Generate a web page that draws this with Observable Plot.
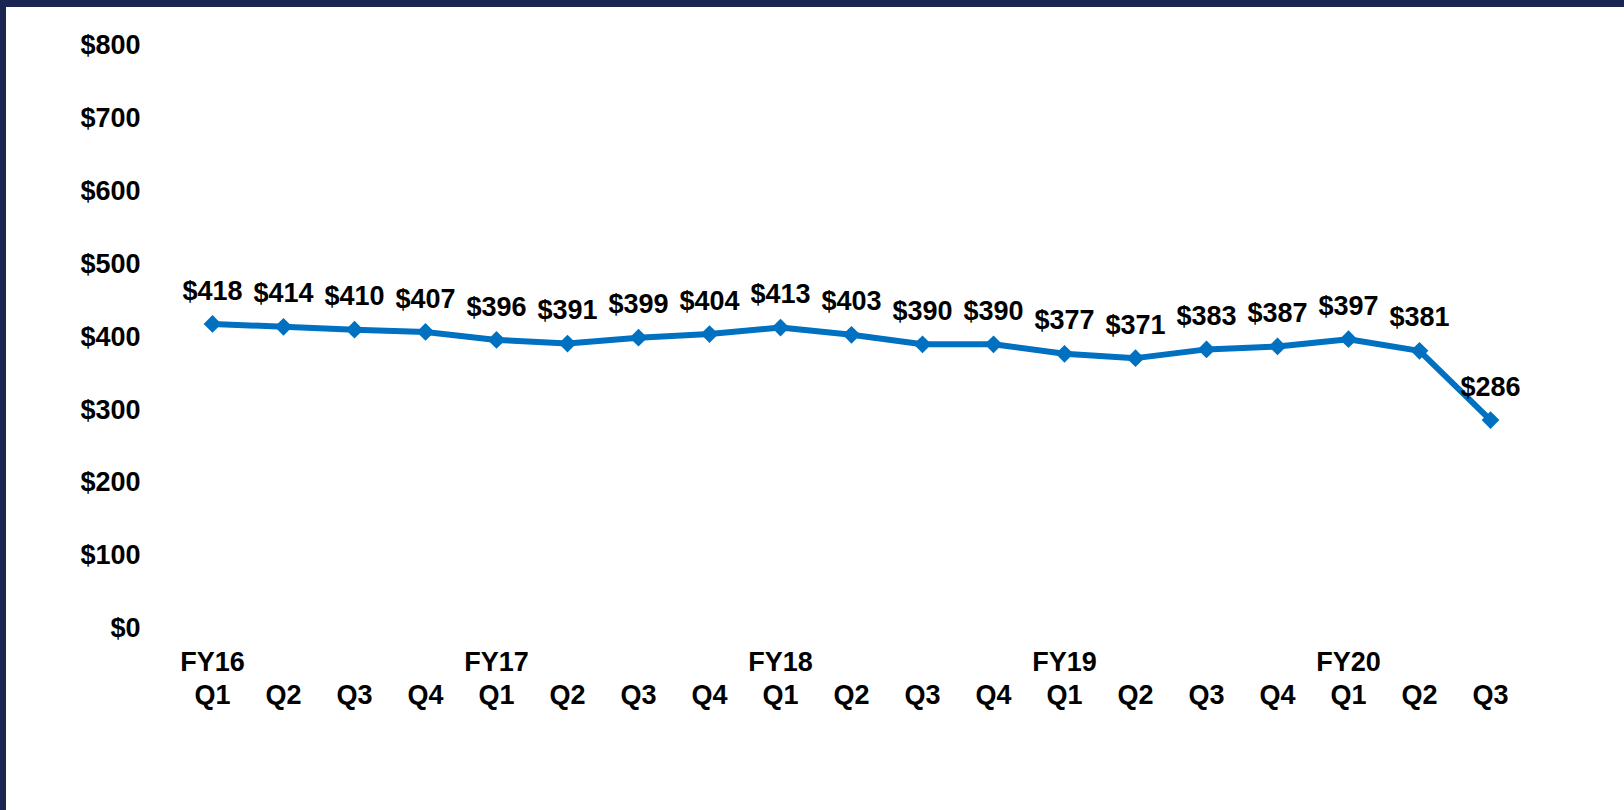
<!DOCTYPE html>
<html>
<head>
<meta charset="utf-8">
<script src="https://cdn.jsdelivr.net/npm/d3@7"></script>
<script src="https://cdn.jsdelivr.net/npm/@observablehq/plot@0.6"></script>
<style>
  html, body { margin: 0; padding: 0; background: #fff; }
  #wrap { position: relative; width: 1624px; height: 810px; overflow: hidden; }
  #top { position: absolute; left: 0; top: 0; width: 1624px; height: 7px; background: #1a2552; }
  #left { position: absolute; left: 0; top: 0; width: 6px; height: 810px; background: #1a2552; }
  #chart svg { display: block; }
</style>
</head>
<body>
<div id="wrap">
  <div id="chart"></div>
  <div id="top"></div>
  <div id="left"></div>
</div>
<script>
const fiscalYears = ["FY16", "", "", "", "FY17", "", "", "", "FY18", "", "", "", "FY19", "", "", "", "FY20", "", ""];
const quarters = ["Q1", "Q2", "Q3", "Q4", "Q1", "Q2", "Q3", "Q4", "Q1", "Q2", "Q3", "Q4", "Q1", "Q2", "Q3", "Q4", "Q1", "Q2", "Q3"];
const values = [418, 414, 410, 407, 396, 391, 399, 404, 413, 403, 390, 390, 377, 371, 383, 387, 397, 381, 286];
const yTicks = [0, 100, 200, 300, 400, 500, 600, 700, 800];

const data = values.map((v, i) => ({i, v, fy: fiscalYears[i], q: quarters[i]}));
const idx = data.map(d => d.i);
const font = "'Liberation Sans', Arial, sans-serif";
const blue = "#0070C0";
const fs = 27;

const chart = Plot.plot({
  width: 1624,
  height: 810,
  marginLeft: 208,
  marginRight: 131,
  marginTop: 45,
  marginBottom: 182,
  style: {fontFamily: font, fontSize: fs + "px", fontWeight: "bold", color: "#000", background: "transparent"},
  x: {type: "point", domain: idx, padding: 0},
  y: {domain: [0, 800]},
  marks: [
    Plot.axisY({ticks: yTicks, tickSize: 0, tickPadding: 68, tickFormat: d => "$" + d, fontSize: fs, fontWeight: "bold", label: null}),
    Plot.axisX({tickSize: 0, tickPadding: 23, tickFormat: i => fiscalYears[i], fontSize: fs, fontWeight: "bold", label: null}),
    Plot.axisX({tickSize: 0, tickPadding: 56, tickFormat: i => quarters[i], fontSize: fs, fontWeight: "bold", label: null}),
    Plot.line(data, {x: "i", y: "v", stroke: blue, strokeWidth: 6}),
    Plot.dot(data, {x: "i", y: "v", symbol: "diamond2", r: 8, fill: blue, stroke: "none"}),
    Plot.text(data, {x: "i", y: "v", text: d => "$" + d.v, dy: -33, fontSize: fs, fontWeight: "bold", fill: "#000"})
  ]
});
document.getElementById("chart").appendChild(chart);
</script>
</body>
</html>
